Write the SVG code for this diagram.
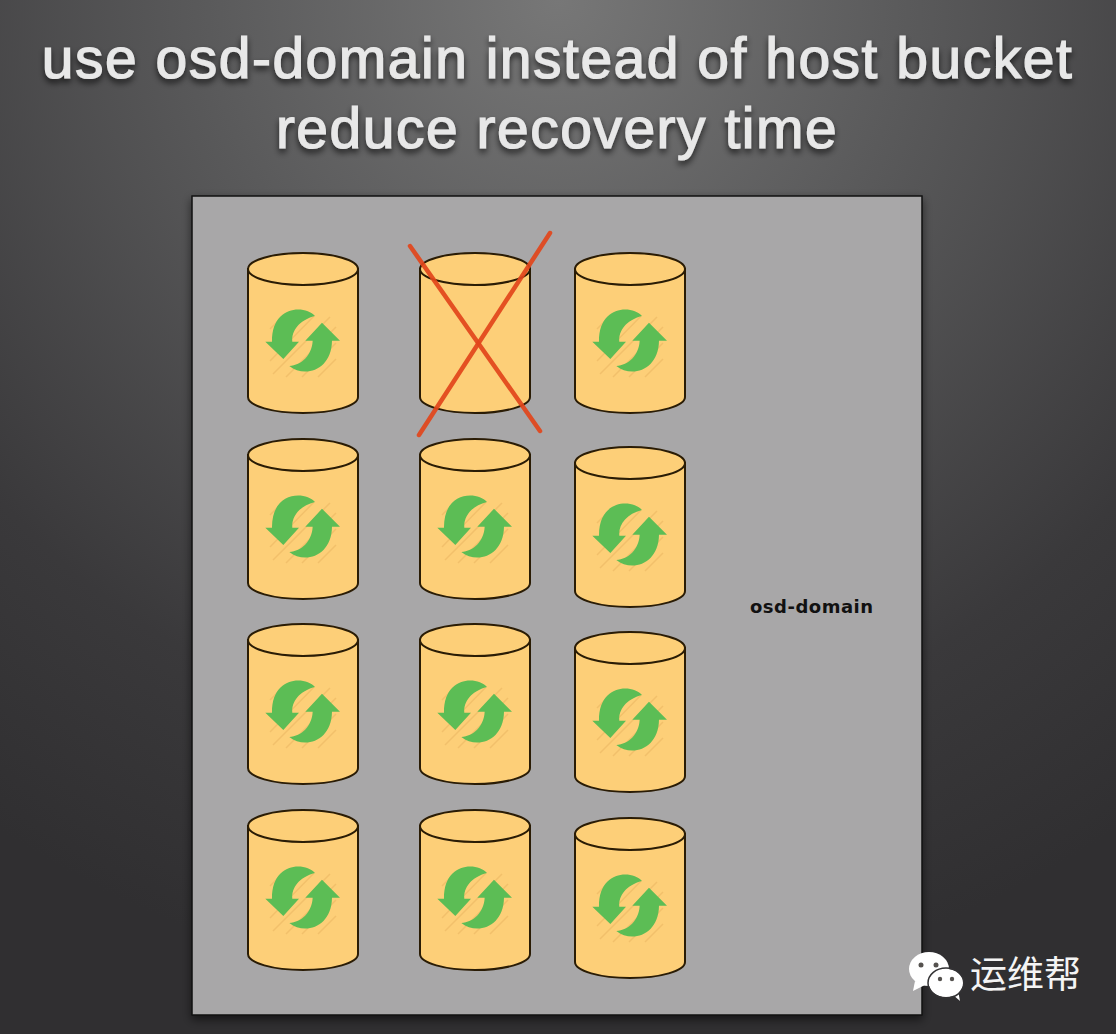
<svg xmlns="http://www.w3.org/2000/svg" width="1116" height="1034" viewBox="0 0 1116 1034">
<style>
.title{font-family:"Liberation Sans",Arial,sans-serif;font-size:57px;letter-spacing:1.5px;fill:#e8e8e8;stroke:#e8e8e8;stroke-width:1.2;text-anchor:middle;filter:url(#ts)}
.cyl{fill:#fdcf78;stroke:#2a1c05;stroke-width:2}
.hatch{stroke:#f0bd68;stroke-width:1.5;opacity:.8}
.arrow{fill:#5cbd55}
.x{stroke:#e2451b;stroke-width:4.5;stroke-linecap:round;fill:none;opacity:.92}
</style>
<defs>
<radialGradient id="bg" gradientUnits="userSpaceOnUse" cx="558" cy="0" r="1000">
<stop offset="0" stop-color="#777777"/><stop offset=".35" stop-color="#5a5a5b"/><stop offset=".75" stop-color="#3a393b"/><stop offset="1" stop-color="#302f31"/>
</radialGradient>
<filter id="ts" x="-5%" y="-20%" width="110%" height="150%"><feDropShadow dx="0" dy="4" stdDeviation="3" flood-color="#000" flood-opacity=".65"/></filter>
<filter id="ps" x="-5%" y="-5%" width="110%" height="110%"><feDropShadow dx="0" dy="4" stdDeviation="5" flood-color="#000" flood-opacity=".55"/></filter>
<g id="body">
<path class="cyl" d="M0,16 V144 C0,153 25,160 55,160 C85,160 110,153 110,144 V16 Z"/>
<ellipse class="cyl" cx="55" cy="16" rx="55" ry="16"/>
</g>
<g id="cylinder">
<use href="#body"/>
<g class="hatch">
<path d="M22,76 L36,62 M22,92 L50,63 M22,108 L66,63 M25,121 L82,64 M38,124 L88,74 M54,124 L88,90 M70,124 L88,106"/>
</g>
<g transform="translate(-18,-13) scale(.3333)">
<path class="arrow" d="M255,228 C225,195 125,195 126,305 L106,305 L160,357 L207,305 L187,305 C184,272 208,240 255,228 Z"/>
<path class="arrow" d="M178,378 C215,375 246,345 248,302 L226,302 L276,248 L330,302 L306,302 C305,390 225,415 178,378 Z"/>
</g>
</g>
</defs>
<rect id="background" width="1116" height="1034" fill="url(#bg)"/>
<g id="title">
<text class="title" x="557.5" y="78">use osd-domain instead of host bucket</text>
<text class="title" x="557" y="148">reduce recovery time</text>
</g>
<rect id="panel" x="192" y="196" width="730" height="819" fill="#a8a7a8" stroke="#111" stroke-width="1.5" filter="url(#ps)"/>
<g id="disk-1-1"><use href="#cylinder" x="248" y="253"/></g>
<g id="disk-1-2"><use href="#body" x="420" y="253"/></g>
<g id="disk-1-3"><use href="#cylinder" x="575" y="253"/></g>
<g id="disk-2-1"><use href="#cylinder" x="248" y="439"/></g>
<g id="disk-2-2"><use href="#cylinder" x="420" y="439"/></g>
<g id="disk-2-3"><use href="#cylinder" x="575" y="447"/></g>
<g id="disk-3-1"><use href="#cylinder" x="248" y="624"/></g>
<g id="disk-3-2"><use href="#cylinder" x="420" y="624"/></g>
<g id="disk-3-3"><use href="#cylinder" x="575" y="632"/></g>
<g id="disk-4-1"><use href="#cylinder" x="248" y="810"/></g>
<g id="disk-4-2"><use href="#cylinder" x="420" y="810"/></g>
<g id="disk-4-3"><use href="#cylinder" x="575" y="818"/></g>
<g id="cross">
<path class="x" d="M410,246 L540,431"/>
<path class="x" d="M550,233 L419,435"/>
</g>
<text id="label" x="750" y="612.5" font-family="'DejaVu Sans',sans-serif" font-weight="700" font-size="18" letter-spacing=".5" fill="#111">osd-domain</text>
<g id="watermark">
<g fill="#fff">
<ellipse cx="929" cy="969" rx="20" ry="17"/>
<path d="M915,981 L913,991 L925,985 Z"/>
<ellipse cx="946" cy="983" rx="17" ry="14"/>
<path d="M952,994 L960,1001 L958,990 Z"/>
</g>
<ellipse cx="946" cy="983" rx="18" ry="15" fill="none" stroke="#333234" stroke-width="1.5"/>
<g fill="#55524f"><circle cx="921" cy="965" r="2.5"/><circle cx="936" cy="965" r="2.5"/><circle cx="940" cy="979" r="2.2"/><circle cx="952" cy="979" r="2.2"/></g>
<text x="970" y="988" font-family="'Noto Sans CJK SC',sans-serif" font-size="37" fill="#f4f4f4">运维帮</text>
</g>
</svg>
